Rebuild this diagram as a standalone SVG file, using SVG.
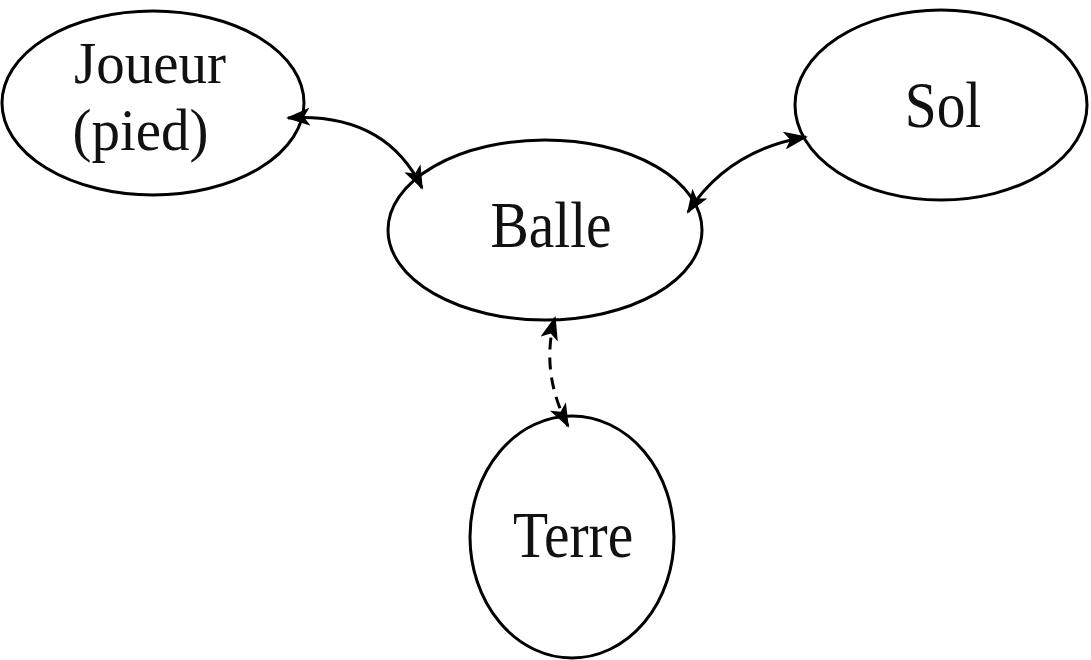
<svg xmlns="http://www.w3.org/2000/svg" width="1091" height="660" viewBox="0 0 1091 660">
<style>
.n{fill:#fff;stroke:#000;stroke-width:3}
.t{font-family:"Liberation Serif","Times New Roman",serif;font-size:66px;fill:#111;text-anchor:middle}
.s{font-size:60px}
.c{fill:none;stroke:#000;stroke-width:3}
.d{stroke-dasharray:12 8}
</style>
<defs>
<marker id="ah" viewBox="0 0 24 18" refX="22" refY="9" markerWidth="24" markerHeight="18" markerUnits="userSpaceOnUse" orient="auto-start-reverse">
<path d="M0,0 L24,9 L0,18 L6,9 Z" fill="#000"/>
</marker>
</defs>
<g id="joueur"><ellipse class="n" cx="153" cy="103" rx="151" ry="92"/>
<text class="t s" transform="translate(150,83) scale(0.95,1)"><tspan x="0" y="0">Joueur</tspan><tspan x="-10" y="67">(pied)</tspan></text></g>
<g id="sol"><ellipse class="n" cx="941" cy="105" rx="146" ry="95"/>
<text class="t" transform="translate(943,127) scale(0.87,1)">Sol</text></g>
<g id="balle"><ellipse class="n" cx="545" cy="230" rx="157" ry="90"/>
<text class="t" transform="translate(551,247) scale(0.87,1)">Balle</text></g>
<g id="terre"><ellipse class="n" cx="572" cy="537" rx="102" ry="121"/>
<text class="t" transform="translate(573,557) scale(0.87,1)">Terre</text></g>
<g id="connectors">
<path class="c" d="M288,118 Q385,112 422,188" marker-start="url(#ah)" marker-end="url(#ah)"/>
<path class="c" d="M688,212 Q728,150 806,137" marker-start="url(#ah)" marker-end="url(#ah)"/>
<path class="c d" d="M555,318 Q540,372 568,426" marker-start="url(#ah)" marker-end="url(#ah)"/>
</g>
</svg>
